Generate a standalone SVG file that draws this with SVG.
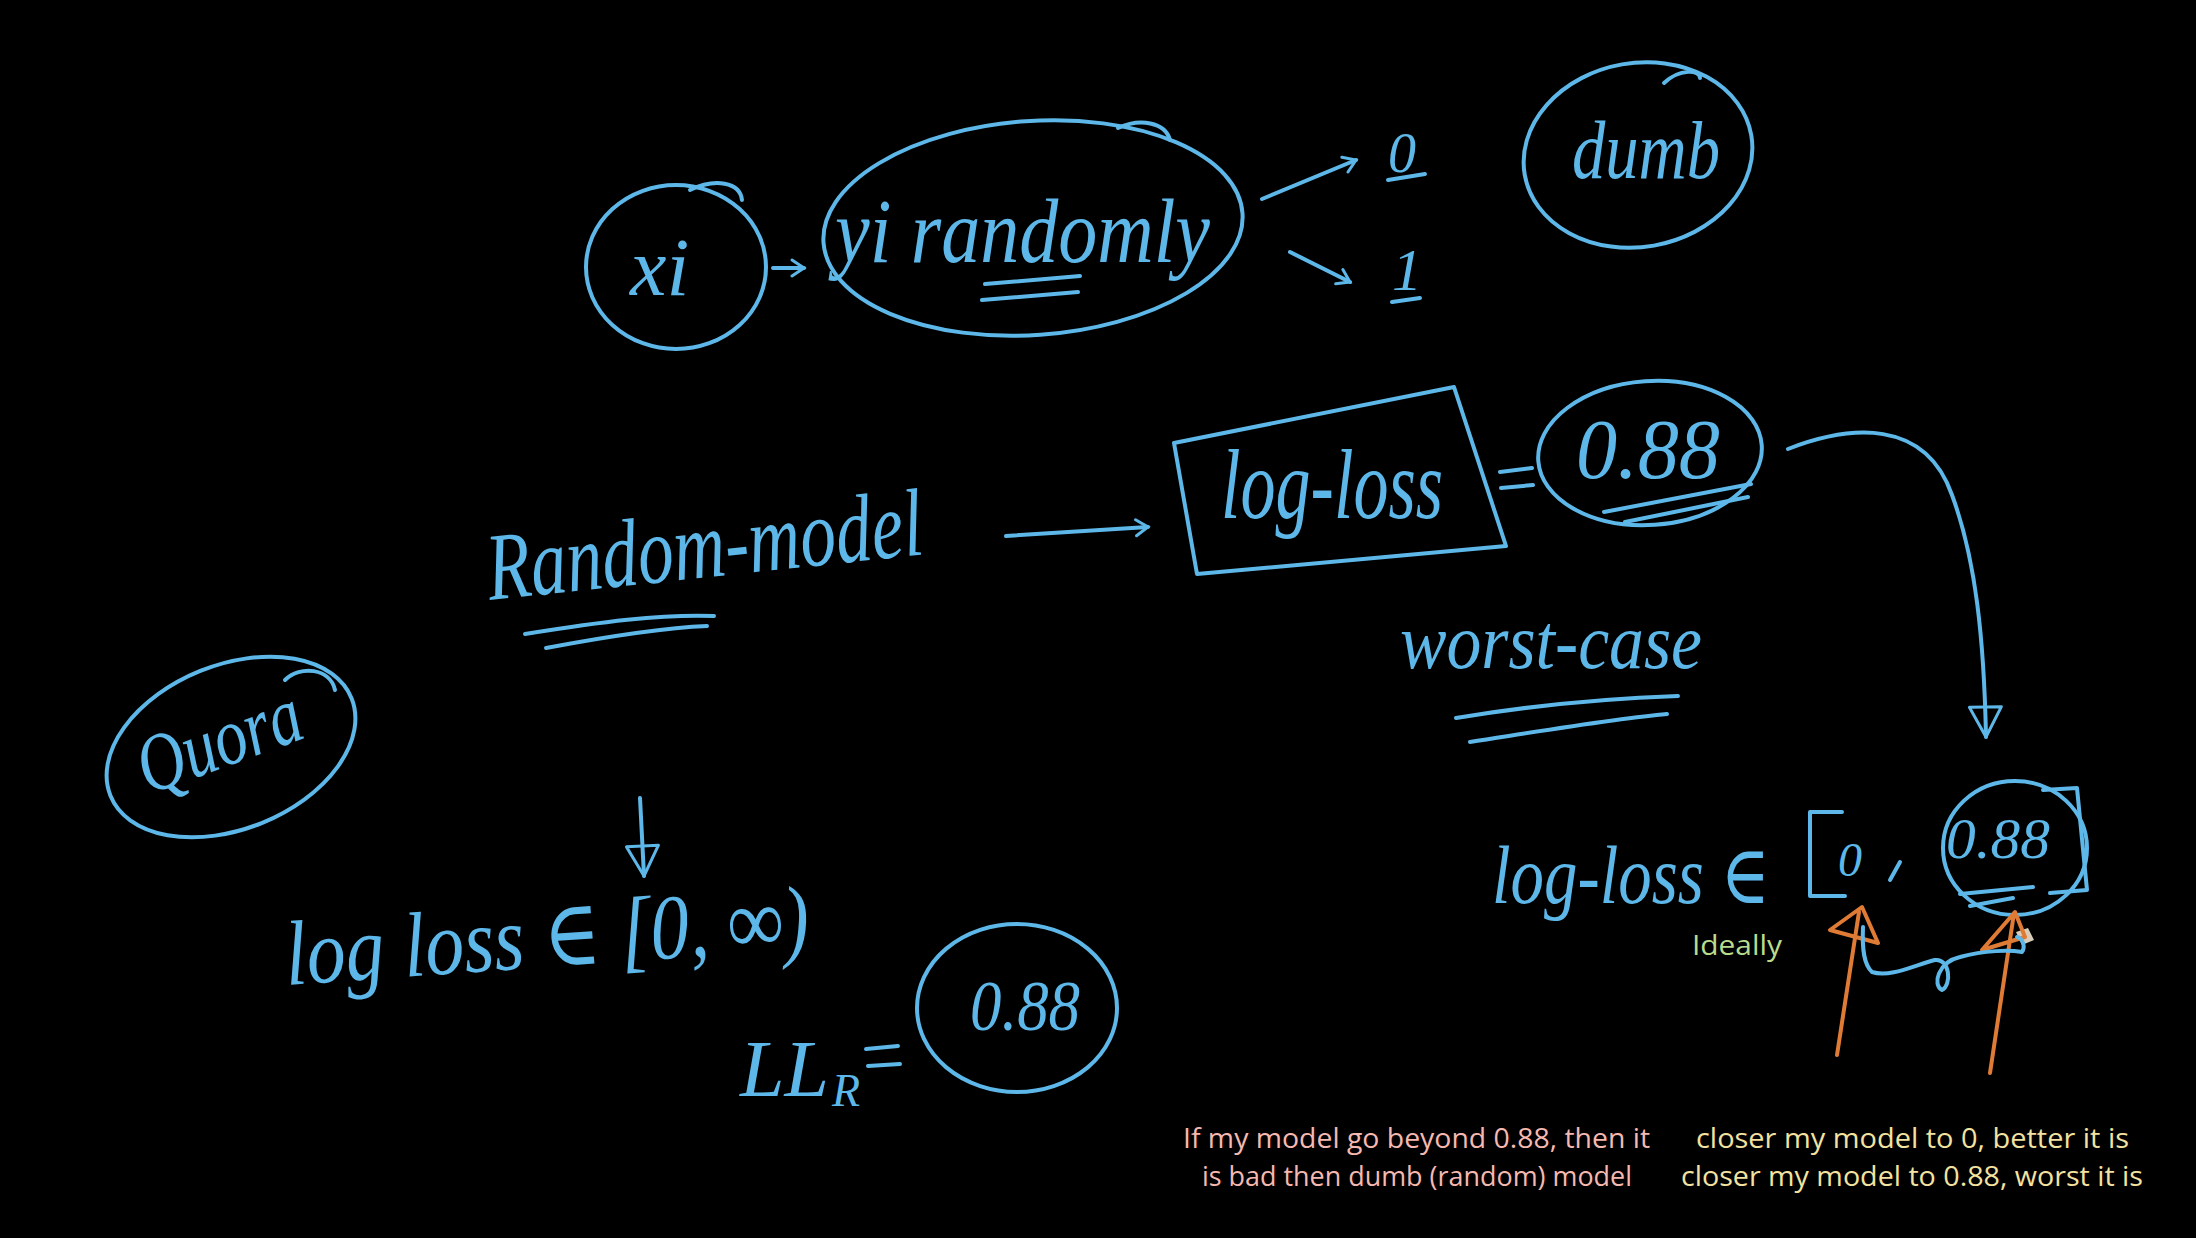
<svg xmlns="http://www.w3.org/2000/svg" width="2196" height="1238" viewBox="0 0 2196 1238">
<style>
.ink{fill:none;stroke:#5db7e8;stroke-width:4;stroke-linecap:round;stroke-linejoin:round}
.or{fill:none;stroke:#e07b35;stroke-width:4;stroke-linecap:round;stroke-linejoin:round}
.hw{fill:#5db7e8;font-family:"Liberation Serif","DejaVu Serif",serif;font-style:italic}
.pk{fill:#f5b9b0;font-family:"Open Sans","Noto Sans",sans-serif;font-size:28px}
.yl{fill:#f3e2a0;font-family:"Open Sans","Noto Sans",sans-serif;font-size:28px}
.gr{fill:#b9dc8c;font-family:"Open Sans","Noto Sans",sans-serif;font-size:28px}
</style>
<defs>
<marker id="chev" viewBox="0 0 20 20" refX="16" refY="10" markerWidth="20" markerHeight="20" markerUnits="userSpaceOnUse" orient="auto">
<path d="M4,2 L16,10 L4,18" fill="none" stroke="#5db7e8" stroke-width="3" stroke-linecap="round"/>
</marker>
<marker id="tri" viewBox="0 0 40 40" refX="36" refY="20" markerWidth="40" markerHeight="40" markerUnits="userSpaceOnUse" orient="auto">
<path d="M6,4 L36,20 L6,36 Z" fill="none" stroke="#5db7e8" stroke-width="3" stroke-linejoin="round"/>
</marker>
</defs>
<rect width="2196" height="1238" fill="#000"/>

<g id="node-xi">
<ellipse class="ink" cx="676" cy="267" rx="90" ry="82"/>
<path class="ink" d="M690,190 C715,178 740,182 742,200"/>
<text class="hw" x="630" y="295" font-size="82">xi</text>
</g>

<g id="node-yi-randomly">
<ellipse class="ink" cx="1033" cy="228" rx="210" ry="107" transform="rotate(-4 1033 228)"/>
<path class="ink" d="M1118,128 C1140,118 1165,122 1170,140"/>
<text class="hw" x="835" y="262" font-size="92" textLength="375" lengthAdjust="spacingAndGlyphs">yi randomly</text>
<path class="ink" d="M985,284 L1080,276 M982,300 L1078,292"/>
</g>

<g id="node-zero">
<text class="hw" x="1388" y="172" font-size="56">0</text>
<path class="ink" d="M1388,180 L1425,174"/>
</g>

<g id="node-one">
<text class="hw" x="1392" y="290" font-size="60">1</text>
<path class="ink" d="M1392,302 L1420,298"/>
</g>

<g id="node-dumb">
<ellipse class="ink" cx="1638" cy="155" rx="115" ry="92" transform="rotate(-10 1638 155)"/>
<path class="ink" d="M1664,83 C1680,68 1700,70 1700,78"/>
<text class="hw" x="1572" y="178" font-size="82" textLength="148" lengthAdjust="spacingAndGlyphs">dumb</text>
</g>

<g id="node-random-model">
<text class="hw" x="490" y="600" font-size="96" textLength="438" lengthAdjust="spacingAndGlyphs" transform="rotate(-6 490 600)">Random-model</text>
<path class="ink" d="M525,634 C600,622 660,614 714,616 M546,648 C610,636 660,628 707,626"/>
</g>

<g id="node-logloss">
<path class="ink" d="M1174,443 L1454,387 L1506,546 L1197,574 Z"/>
<text class="hw" x="1221" y="518" font-size="100" textLength="222" lengthAdjust="spacingAndGlyphs">log-loss</text>
<path class="ink" d="M1500,472 L1532,468 M1501,488 L1533,485"/>
</g>

<g id="node-088-top">
<ellipse class="ink" cx="1650" cy="453" rx="112" ry="72" transform="rotate(-4 1650 453)"/>
<text class="hw" x="1576" y="478" font-size="84" textLength="144" lengthAdjust="spacingAndGlyphs">0.88</text>
<path class="ink" d="M1604,512 L1751,484 M1625,522 L1748,497"/>
</g>

<g id="node-worst-case">
<text class="hw" x="1400" y="668" font-size="78" textLength="302" lengthAdjust="spacingAndGlyphs">worst-case</text>
<path class="ink" d="M1456,718 C1540,704 1620,698 1678,696 M1470,742 C1560,728 1620,718 1667,714"/>
</g>

<g id="node-quora">
<ellipse class="ink" cx="231" cy="747" rx="130" ry="82" transform="rotate(-22 231 747)"/>
<path class="ink" d="M285,680 C300,665 330,668 335,690"/>
<text class="hw" x="148" y="795" font-size="82" textLength="170" lengthAdjust="spacingAndGlyphs" transform="rotate(-20 148 795)">Quora</text>
</g>

<g id="node-range-inf">
<text class="hw" x="287" y="985" font-size="92" textLength="525" lengthAdjust="spacingAndGlyphs" transform="rotate(-4 287 985)">log loss ∈ [0, ∞)</text>
</g>

<g id="node-llr">
<text class="hw" x="740" y="1096" font-size="80">LL</text>
<text class="hw" x="832" y="1106" font-size="46">R</text>
<path class="ink" d="M866,1049 L898,1046 M868,1066 L900,1064"/>
<ellipse class="ink" cx="1017" cy="1008" rx="100" ry="84"/>
<text class="hw" x="970" y="1030" font-size="72" textLength="110" lengthAdjust="spacingAndGlyphs">0.88</text>
</g>

<g id="node-range-088">
<text class="hw" x="1492" y="903" font-size="82" textLength="278" lengthAdjust="spacingAndGlyphs">log-loss ∈</text>
<path class="ink" d="M1842,812 L1810,812 L1810,896 L1845,896"/>
<text class="hw" x="1838" y="876" font-size="48">0</text>
<path class="ink" d="M1900,862 L1890,880"/>
<ellipse class="ink" cx="2015" cy="848" rx="72" ry="67"/>
<path class="ink" d="M2043,790 L2077,788 L2087,890 L2050,893"/>
<text class="hw" x="1946" y="858" font-size="56" textLength="104" lengthAdjust="spacingAndGlyphs">0.88</text>
<path class="ink" d="M1960,894 L2033,887 M1970,906 L2013,898"/>
<path d="M2016,932 L2028,928 L2034,940 L2022,945 Z" fill="#d8cbb8"/>
</g>

<g id="node-ideally">
<text class="gr" x="1692" y="955" textLength="90" lengthAdjust="spacingAndGlyphs">Ideally</text>
</g>

<g id="note-pink">
<text class="pk" x="1183" y="1148" textLength="467" lengthAdjust="spacingAndGlyphs">If my model go beyond 0.88, then it</text>
<text class="pk" x="1202" y="1186" textLength="430" lengthAdjust="spacingAndGlyphs">is bad then dumb (random) model</text>
</g>

<g id="note-yellow">
<text class="yl" x="1696" y="1148" textLength="433" lengthAdjust="spacingAndGlyphs">closer my model to 0, better it is</text>
<text class="yl" x="1681" y="1186" textLength="462" lengthAdjust="spacingAndGlyphs">closer my model to 0.88, worst it is</text>
</g>

<g id="connectors">
<path class="ink" d="M773,268 L804,268" marker-end="url(#chev)"/>
<path class="ink" d="M1262,199 L1356,160" marker-end="url(#chev)"/>
<path class="ink" d="M1290,252 L1350,282" marker-end="url(#chev)"/>
<path class="ink" d="M1006,536 L1148,527" marker-end="url(#chev)"/>
<path class="ink" d="M1788,449 C1850,425 1925,418 1952,495 C1976,560 1984,640 1986,737" marker-end="url(#tri)"/>
<path class="ink" d="M640,798 L644,876" marker-end="url(#tri)"/>
<path class="or" d="M1837,1055 L1859,912 M1830,930 L1862,907 L1878,943 Z"/>
<path class="or" d="M1990,1073 L2014,913 M1982,950 L2015,912 L2025,937 Z"/>
<path class="ink" d="M1863,927 C1862,950 1864,965 1872,972 C1890,978 1915,965 1935,960 C1950,958 1952,985 1942,990 C1932,985 1938,962 1960,957 C1985,950 2010,950 2022,952 C2026,946 2022,938 2017,937"/>
</g>
</svg>
